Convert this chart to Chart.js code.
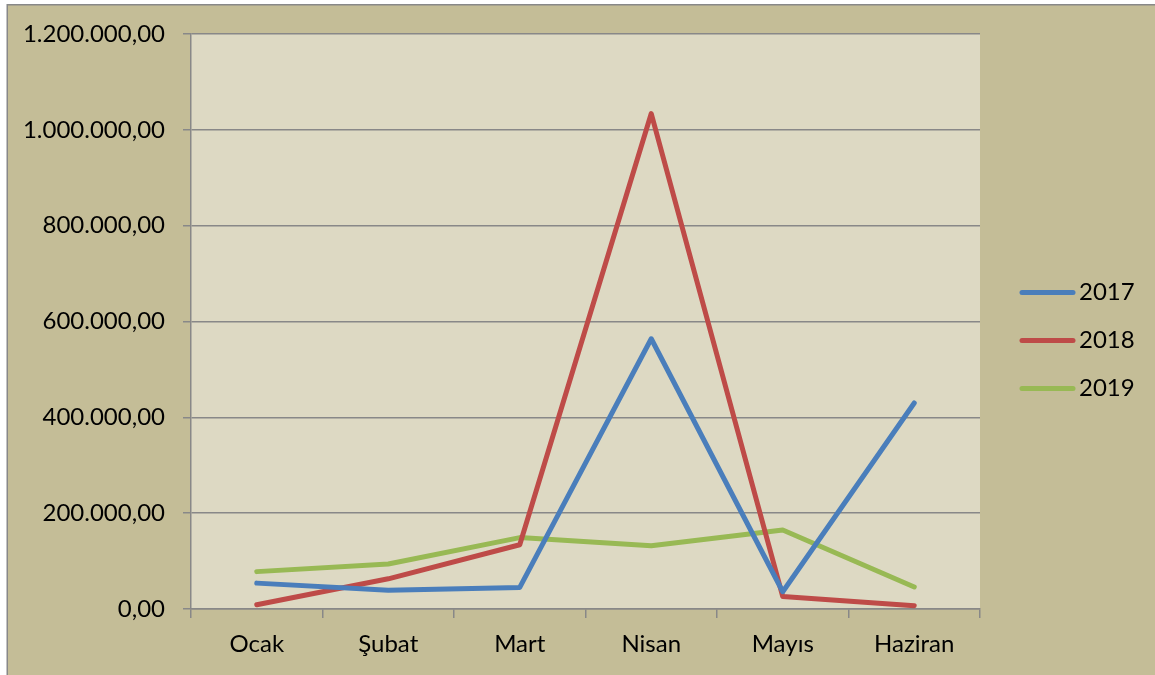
<!DOCTYPE html>
<html>
<head>
<meta charset="utf-8">
<script src="https://cdn.jsdelivr.net/npm/chart.js@4"></script>
<style>
  html, body { margin: 0; padding: 0; background: #ffffff; }
  #wrap { position: relative; width: 1155px; height: 675px; }
</style>
</head>
<body>
<div id="wrap"><canvas id="chart" width="1155" height="675"></canvas></div>
<script>
// Data
const months = ['Ocak', 'Şubat', 'Mart', 'Nisan', 'Mayıs', 'Haziran'];
const years = ['2017', '2018', '2019'];
const values2017 = [54000, 39000, 45000, 564000, 36000, 430000];
const values2018 = [9000, 63000, 134000, 1034000, 26000, 7000];
const values2019 = [78000, 94000, 149000, 132000, 165000, 46000];
const lineColors = ['#4A7EBB', '#BE4B48', '#98B954'];

const FONT = 'Lato';
const GRID = '#888888';

// Turkish number format: 1.200.000,00
function trNumber(v) {
    const parts = Math.abs(v).toFixed(2).split('.');
    parts[0] = parts[0].replace(/\B(?=(\d{3})+(?!\d))/g, '.');
    return parts[0] + ',' + parts[1];
}

// Background, outer frame, plot area fill
const backdrop = {
    id: 'backdrop',
    beforeDraw(chart) {
        const ctx = chart.ctx;
        const a = chart.chartArea;
        ctx.save();
        ctx.fillStyle = '#ffffff';
        ctx.fillRect(0, 0, chart.width, chart.height);
        ctx.fillStyle = '#C4BD97';
        ctx.fillRect(7, 4.5, chart.width, chart.height);
        ctx.strokeStyle = GRID;
        ctx.lineWidth = 1.5;
        ctx.beginPath();
        ctx.moveTo(7.25, chart.height);
        ctx.lineTo(7.25, 4.75);
        ctx.lineTo(chart.width, 4.75);
        ctx.stroke();
        ctx.fillStyle = '#DDD9C3';
        ctx.fillRect(a.left, a.top, a.right - a.left, a.bottom - a.top);
        ctx.restore();
    }
};

// Legend on the right, drawn from the datasets
const sideLegend = {
    id: 'sideLegend',
    afterDraw(chart) {
        const ctx = chart.ctx;
        ctx.save();
        ctx.font = '24px ' + FONT;
        ctx.textBaseline = 'middle';
        chart.data.datasets.forEach((ds, i) => {
            const y = 292.5 + i * 48;
            ctx.strokeStyle = ds.borderColor;
            ctx.lineWidth = 5;
            ctx.lineCap = 'round';
            ctx.beginPath();
            ctx.moveTo(1022, y);
            ctx.lineTo(1073, y);
            ctx.stroke();
            ctx.fillStyle = '#000000';
            ctx.fillText(ds.label, 1079, y);
        });
        ctx.restore();
    }
};

const seriesValues = [values2017, values2018, values2019];

new Chart(document.getElementById('chart'), {
    type: 'line',
    data: {
        labels: months,
        datasets: years.map((y, i) => ({
            label: y,
            data: seriesValues[i],
            borderColor: lineColors[i],
            backgroundColor: lineColors[i],
            borderWidth: 5,
            borderCapStyle: 'round',
            borderJoinStyle: 'round',
            pointRadius: 0,
            tension: 0,
            fill: false
        }))
    },
    options: {
        responsive: false,
        animation: false,
        devicePixelRatio: 1,
        layout: { padding: { left: 0, top: 34, right: 175, bottom: 0 } },
        plugins: { legend: { display: false }, tooltip: { enabled: false } },
        scales: {
            x: {
                offset: true,
                grid: { offset: true, drawOnChartArea: false, color: GRID, lineWidth: 1.5, tickLength: 9 },
                border: { color: GRID, width: 1.5 },
                ticks: { color: '#000000', font: { family: FONT, size: 24 }, padding: 12 },
                afterFit(s) { s.height = 66; }
            },
            y: {
                min: 0,
                max: 1200000,
                grid: { color: GRID, lineWidth: 1.5, tickLength: 8 },
                border: { color: GRID, width: 1.5 },
                ticks: {
                    stepSize: 200000,
                    color: '#000000',
                    font: { family: FONT, size: 24 },
                    padding: 18,
                    callback: v => trNumber(v)
                },
                afterFit(s) { s.width = 191; }
            }
        }
    },
    plugins: [backdrop, sideLegend]
});
</script>
</body>
</html>
